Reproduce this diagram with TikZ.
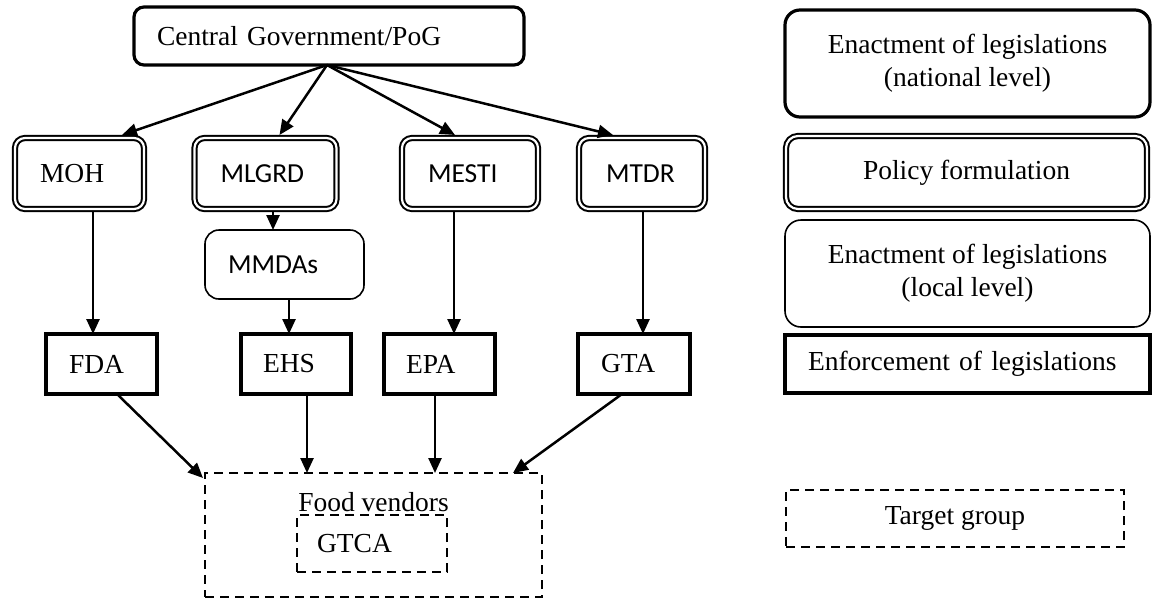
\documentclass[tikz,border=0pt]{standalone}
\usepackage{fontspec}
\setmainfont{Liberation Serif}
\newfontfamily\calib{Carlito}
\usetikzlibrary{arrows.meta}
\newcommand\fs{\fontsize{27.5}{33}\selectfont}
\begin{document}
\begin{tikzpicture}[x=1pt,y=-1pt,
  every node/.style={font=\fs, inner ysep=0pt, outer sep=0pt},
  thickround/.style={draw, line width=3.2pt, rounded corners=10pt},
  dbl/.style={draw, double, double distance=2.2pt, line width=2pt, rounded corners=10pt},
  thinround/.style={draw, line width=1.6pt, rounded corners=12pt},
  thickrect/.style={draw, line width=4pt},
  dashbox/.style={draw, line width=2.6pt, dash pattern=on 9pt off 6pt},
  arr/.style={line width=2.5pt, -{Triangle[length=15pt,width=13pt]}}]
\useasboundingbox (0,0) rectangle (1152,598);

% left diagram
\node[thickround, minimum width=390pt, minimum height=58pt, inner xsep=23pt, text width=344pt, align=left] (cg) at (329,36) {Central Government/PoG};

\node[dbl, minimum width=129pt, minimum height=71pt, inner xsep=25pt, text width=79pt, align=left] (moh) at (79.5,173.5) {MOH};
\node[dbl, minimum width=142pt, minimum height=71pt, inner xsep=26pt, text width=90pt, align=left, font=\fs\calib] (mlgrd) at (265.5,173.5) {MLGRD};
\node[dbl, minimum width=136pt, minimum height=71pt, inner xsep=26pt, text width=84pt, align=left, font=\fs\calib] (mesti) at (470,173.5) {MESTI};
\node[dbl, minimum width=126pt, minimum height=71pt, inner xsep=27pt, text width=72pt, align=left, font=\fs\calib] (mtdr) at (642,173.5) {MTDR};

\node[thinround, rounded corners=14pt, minimum width=159pt, minimum height=69pt, inner xsep=23pt, text width=113pt, align=left, font=\fs\calib] (mmdas) at (284.5,264.5) {MMDAs};

\node[thickrect, minimum width=111pt, minimum height=60pt, inner xsep=23pt, text width=65pt, align=left] (fda) at (101.5,364) {FDA};
\node[thickrect, minimum width=110pt, minimum height=60pt, inner xsep=22pt, text width=66pt, align=left] (ehs) at (296,364) {EHS};
\node[thickrect, minimum width=111pt, minimum height=60pt, inner xsep=22pt, text width=67pt, align=left] (epa) at (439.5,364) {EPA};
\node[thickrect, minimum width=112pt, minimum height=60pt, inner xsep=23pt, text width=66pt, align=left] (gta) at (634,364) {GTA};

\node[dashbox, minimum width=337pt, minimum height=124pt] (fv) at (373.5,535) {};
\node (fvtext) at (373.5,502) {Food vendors};
\node[dashbox, minimum width=150pt, minimum height=57pt, inner xsep=20pt, text width=110pt, align=left] (gtca) at (372,543.5) {GTCA};

% connectors
\coordinate (apex) at ([xshift=-2pt]cg.south);
\draw[arr] (apex) -- ([xshift=107pt,yshift=3pt]moh.north west);
\draw[arr] (apex) -- ([xshift=85pt,yshift=3pt]mlgrd.north west);
\draw[arr] (apex) -- ([xshift=53pt,yshift=3pt]mesti.north west);
\draw[arr] (apex) -- ([xshift=34pt,yshift=3pt]mtdr.north west);

\draw[arr] ([xshift=78pt,yshift=-3pt]moh.south west) -- ([xshift=-8.5pt]fda.north);
\draw[arr] ([xshift=7.5pt,yshift=-3pt]mlgrd.south) -- ([xshift=-11.5pt]mmdas.north);
\draw[arr] ([xshift=4.5pt]mmdas.south) -- ([xshift=-7pt]ehs.north);
\draw[arr] ([xshift=-16pt,yshift=-3pt]mesti.south) -- ([xshift=14.5pt]epa.north);
\draw[arr] ([xshift=1pt,yshift=-3pt]mtdr.south) -- ([xshift=9pt]gta.north);

\draw[arr] ([xshift=15.5pt]fda.south) -- ([xshift=-2pt,yshift=-5pt]fv.north west);
\draw[arr] ([xshift=11pt]ehs.south) -- ([xshift=-66.5pt]fv.north);
\draw[arr] ([xshift=-4.5pt]epa.south) -- ([xshift=61.5pt]fv.north);
\draw[arr] ([xshift=-12pt]gta.south) -- ([xshift=-29pt]fv.north east);

% legend
\node[thickround, rounded corners=15pt, minimum width=365pt, minimum height=107pt, align=center] (nat) at (967.5,63.5) {Enactment of legislations\\(national level)};
\node[dbl, rounded corners=12pt, minimum width=361pt, minimum height=73pt, align=center] (pol) at (966.5,172.5) {Policy formulation};
\node[thinround, rounded corners=16pt, minimum width=365pt, minimum height=107pt, align=center] (loc) at (967.5,273.5) {Enactment of legislations\\(local level)};
\node[thickrect, minimum width=365pt, minimum height=58pt, inner xsep=23pt, text width=319pt, align=left] (enf) at (967.5,364) {Enforcement of legislations};
\node[dashbox, minimum width=338pt, minimum height=57pt, align=center] (tg) at (955,518.5) {Target group};
\end{tikzpicture}
\end{document}
